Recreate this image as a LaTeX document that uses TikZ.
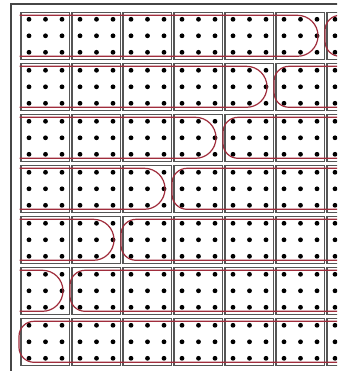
\documentclass[tikz,border=0pt]{standalone}
\definecolor{framec}{RGB}{70,70,70}
\definecolor{boxc}{RGB}{85,85,85}
\definecolor{redc}{RGB}{160,45,60}
\begin{document}
\begin{tikzpicture}[x=1pt,y=-1pt,
  cellbox/.style={draw=boxc,line width=1.1pt},
  dotmark/.style={fill=black},
  redline/.style={draw=redc,line width=1.2pt}]
\useasboundingbox (0,0) rectangle (337,371);
\clip (0,0) rectangle (337,371);
\fill[white] (0,0) rectangle (337,371);
\draw[framec,line width=1.2pt] (11,4) rectangle (345,380);
\foreach \rr in {0,...,6} {
  \foreach \cc in {0,...,6} {
    \pgfmathsetmacro\L{21+51*\cc}
    \pgfmathsetmacro\T{12.3+51*\rr}
    \draw[cellbox] (\L,\T) rectangle ++(48.5,47);
    \foreach \i in {8,24.5,41} {
      \foreach \j in {7,23.5,40} {
        \fill[dotmark] (\L+\i,\T+\j) circle[radius=2.4];
      }
    }
  }
}
\foreach \rr in {0,...,6} {
  \pgfmathsetmacro\T{12.3+51*\rr}
  \pgfmathsetmacro\ya{\T+3}
  \pgfmathsetmacro\yb{\T+44}
  \pgfmathsetmacro\xl{21+51*(6-\rr)-2}
  \draw[redline,rounded corners=15pt] (345,\ya) -- (\xl,\ya) -- (\xl,\yb) -- (345,\yb);
  \ifnum\rr<6
    \pgfmathsetmacro\xr{21+51*(5-\rr)+42-20.5}
    \draw[redline] (19.5,\ya) -- (\xr,\ya) arc[start angle=-90,end angle=90,radius=20.5] -- (19.5,\yb);
  \fi
}
\end{tikzpicture}
\end{document}
